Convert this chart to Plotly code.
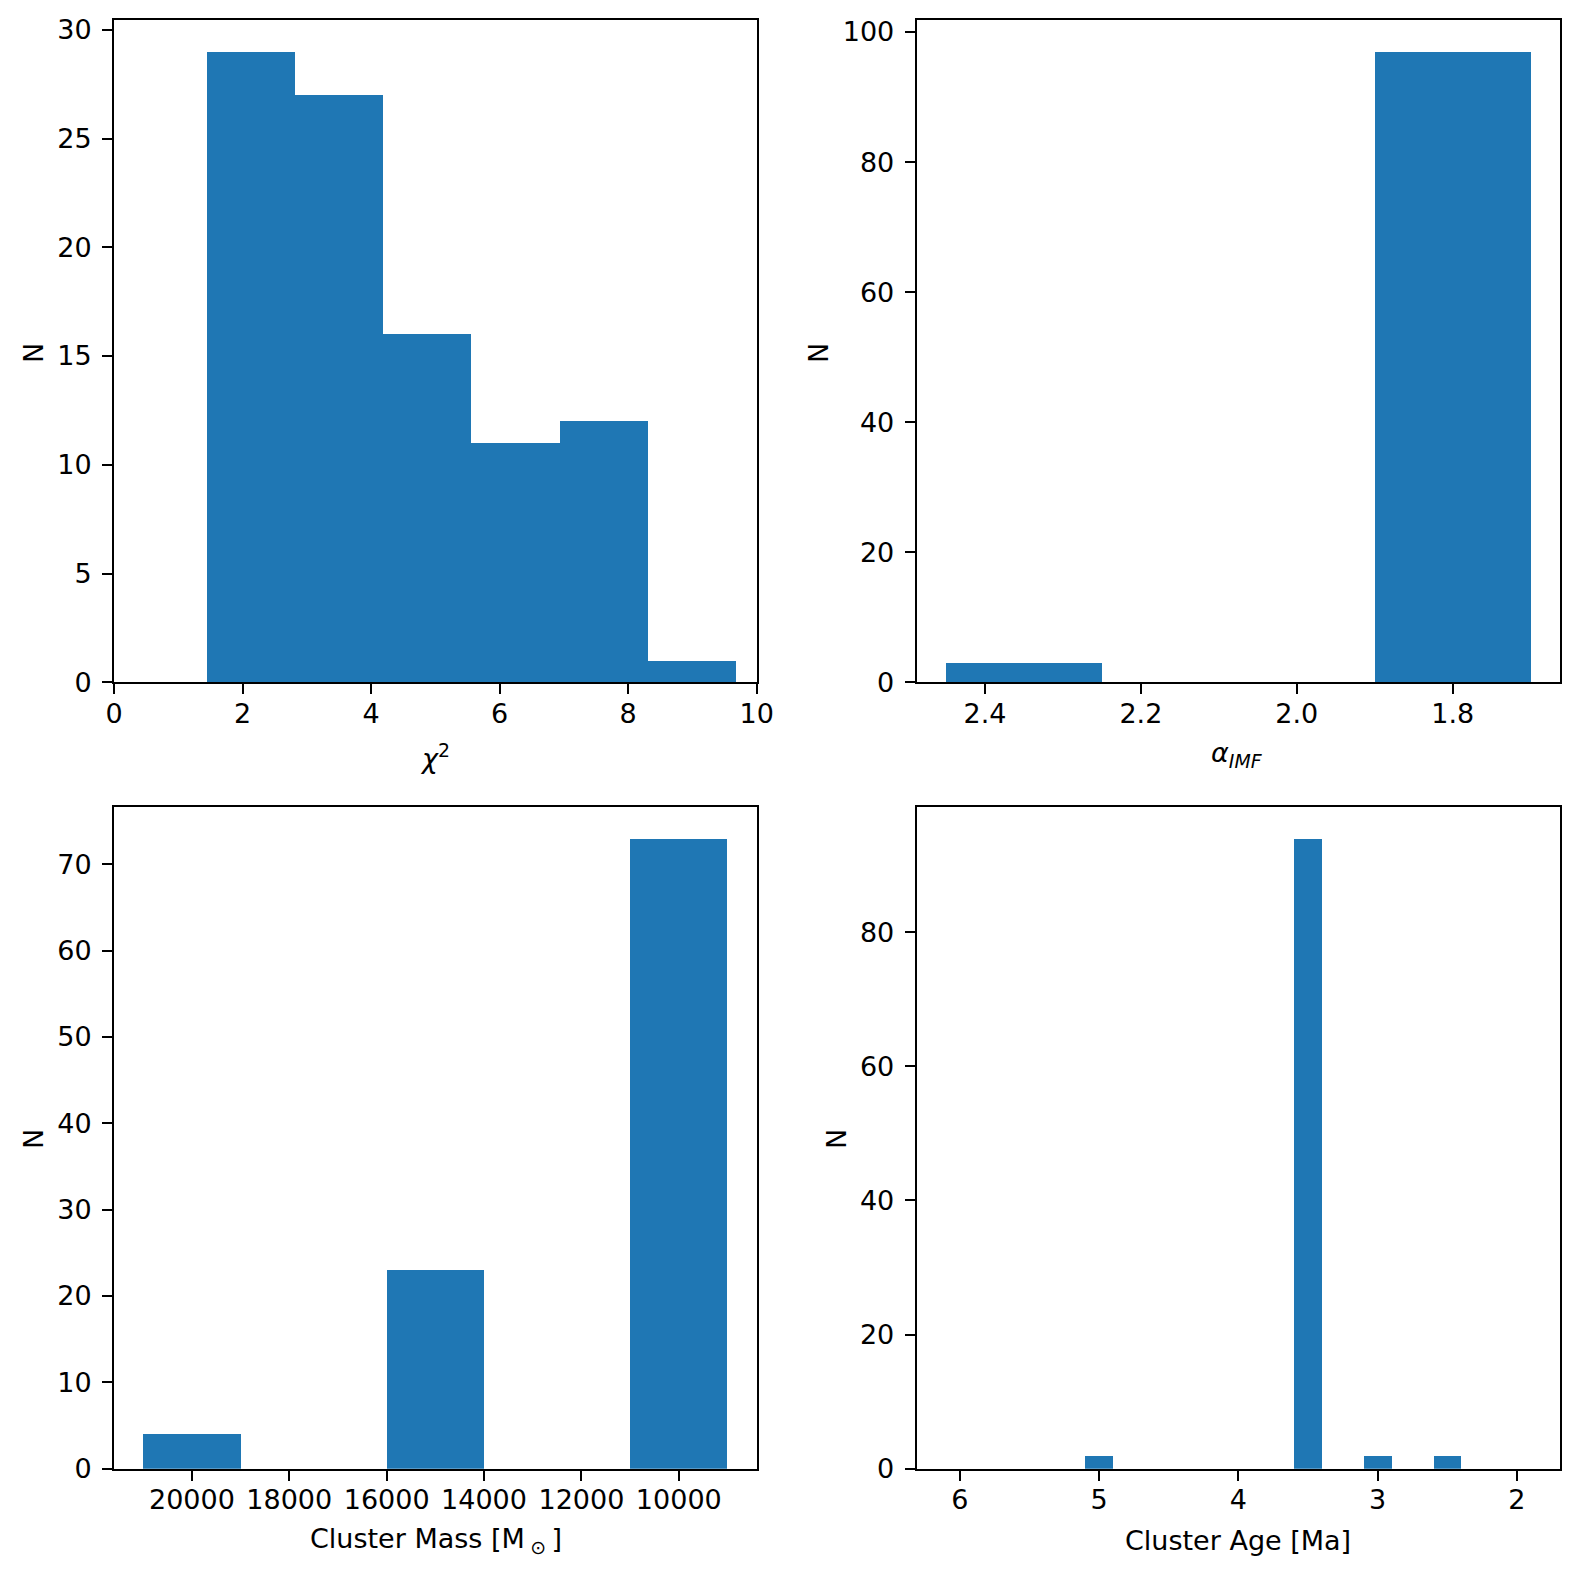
import plotly.graph_objects as go

# ---- data ----
chi2_edges = [1.447, 2.819, 4.190, 5.562, 6.934, 8.306, 9.678]
chi2_counts = [29, 27, 16, 11, 12, 1]

alpha_centers = [2.35, 1.80]
alpha_width = 0.2
alpha_counts = [3, 97]

mass_centers = [20000, 15000, 10000]
mass_width = 2000
mass_counts = [4, 23, 73]

age_centers = [6.0, 5.0, 3.5, 3.0, 2.5, 2.0]
age_width = 0.2
age_counts = [0, 2, 94, 2, 2, 0]

BLUE = "#1f77b4"
W, H = 1580, 1578
OFF = 8  # page body margin
FONT = dict(family="DejaVu Sans", size=27, color="black")

def fx(px):
    return (px - OFF) / W

def fy(py):
    return 1 - (py - OFF) / H

fig = go.Figure()

def add_hist(centers, widths, counts, xa, ya):
    fig.add_trace(go.Bar(x=centers, y=counts, width=widths, marker=dict(color=BLUE, line=dict(width=0)),
                         xaxis=xa, yaxis=ya, showlegend=False, hoverinfo="skip"))

chi2_centers = [(a + b) / 2 for a, b in zip(chi2_edges[:-1], chi2_edges[1:])]
chi2_widths = [b - a for a, b in zip(chi2_edges[:-1], chi2_edges[1:])]
add_hist(chi2_centers, chi2_widths, chi2_counts, "x", "y")
add_hist(alpha_centers, [alpha_width] * len(alpha_centers), alpha_counts, "x2", "y2")
add_hist(mass_centers, [mass_width] * len(mass_centers), mass_counts, "x3", "y3")
add_hist(age_centers, [age_width] * len(age_centers), age_counts, "x4", "y4")

def pad(lo, hi):
    d = (hi - lo) * 0.05
    return lo - d, hi + d

xl = [fx(114), fx(756.7)]
xr = [fx(916.7), fx(1560)]
yt = [fy(682.3), fy(20)]
yb = [fy(1468.7), fy(806.7)]

common = dict(showline=True, linecolor="black", linewidth=2, mirror=True, ticks="outside",
              ticklen=10, tickwidth=2, tickcolor="black", showgrid=False, zeroline=False,
              tickfont=FONT, automargin=False)
cx = dict(common, ticklabelstandoff=-4)
cy = dict(common, ticklabelstandoff=5)

a_lo, a_hi = pad(min(alpha_centers) - alpha_width / 2, max(alpha_centers) + alpha_width / 2)
m_lo, m_hi = pad(min(mass_centers) - mass_width / 2, max(mass_centers) + mass_width / 2)
g_lo, g_hi = pad(1.9, 6.1)

fig.update_layout(
    width=W, height=H, margin=dict(l=0, r=0, t=0, b=0),
    paper_bgcolor="white", plot_bgcolor="white", bargap=0, font=FONT,
    xaxis=dict(domain=xl, anchor="y", range=[0, 10], tickvals=[0, 2, 4, 6, 8, 10], **cx),
    yaxis=dict(domain=yt, anchor="x", range=[0, max(chi2_counts) * 1.05], tickvals=[0, 5, 10, 15, 20, 25, 30], **cy),
    xaxis2=dict(domain=xr, anchor="y2", range=[a_hi, a_lo], tickvals=[2.4, 2.2, 2.0, 1.8], tickformat=".1f", **cx),
    yaxis2=dict(domain=yt, anchor="x2", range=[0, max(alpha_counts) * 1.05], tickvals=[0, 20, 40, 60, 80, 100], **cy),
    xaxis3=dict(domain=xl, anchor="y3", range=[m_hi, m_lo], tickvals=[20000, 18000, 16000, 14000, 12000, 10000],
                tickformat="d", **cx),
    yaxis3=dict(domain=yb, anchor="x3", range=[0, max(mass_counts) * 1.05], tickvals=[0, 10, 20, 30, 40, 50, 60, 70], **cy),
    xaxis4=dict(domain=xr, anchor="y4", range=[g_hi, g_lo], tickvals=[6, 5, 4, 3, 2], **cx),
    yaxis4=dict(domain=yb, anchor="x4", range=[0, max(age_counts) * 1.05], tickvals=[0, 20, 40, 60, 80], **cy),
)

titles = [
    ("<i>χ</i><sup>2</sup>", 435, 756, 0),
    ("<i>α</i><sub><i>IMF</i></sub>", 1237, 754, 0),
    ("Cluster Mass [M\u2009<sub>⊙</sub>\u2009]", 436, 1540, 0),
    ("Cluster Age [Ma]", 1238, 1540, 0),
    ("N", 33, 353, -90),
    ("N", 818, 353, -90),
    ("N", 33, 1139, -90),
    ("N", 836, 1139, -90),
]
for text, px, py, ang in titles:
    fig.add_annotation(text=text, x=fx(px), y=fy(py), xref="paper", yref="paper",
                       xanchor="center", yanchor="middle", showarrow=False, textangle=ang, font=FONT)

fig.write_html("out.html")
